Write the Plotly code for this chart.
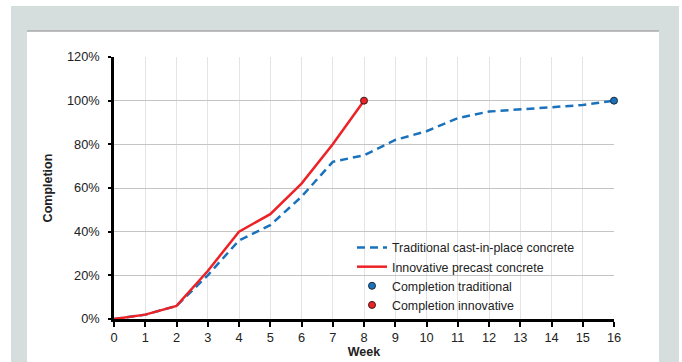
import plotly.graph_objects as go

weeks_trad = list(range(0, 17))
trad = [0, 2, 6, 20, 36, 43, 56, 72, 75, 82, 86, 92, 95, 96, 97, 98, 100]
weeks_innov = list(range(0, 9))
innov = [0, 2, 6, 22, 40, 48, 62, 80, 100]
completion_trad = ([16], [100])
completion_innov = ([8], [100])
x_ticks = list(range(0, 17))
y_ticks = [0, 20, 40, 60, 80, 100, 120]

W, H = 682, 362
L, R, T, B = 114, 614, 57, 319  # plot area pixel box

def px(X):
    return (X - L) / (R - L)

def py(Y):
    return (B - Y) / (B - T)

BLUE = "#1a72bd"
RED = "#ec2227"
FONT = "Liberation Sans, Arial, sans-serif"
FS = 12.8

fig = go.Figure()
fig.add_trace(go.Scatter(x=weeks_trad, y=[v / 100 for v in trad], mode="lines",
                         name="Traditional cast-in-place concrete",
                         line=dict(color=BLUE, width=2.5, dash="8px,5px")))
fig.add_trace(go.Scatter(x=weeks_innov, y=[v / 100 for v in innov], mode="lines",
                         name="Innovative precast concrete",
                         line=dict(color=RED, width=2.5)))
fig.add_trace(go.Scatter(x=completion_trad[0], y=[v / 100 for v in completion_trad[1]],
                         mode="markers", name="Completion traditional",
                         marker=dict(color=BLUE, size=7, line=dict(color="#1d2b3a", width=1))))
fig.add_trace(go.Scatter(x=completion_innov[0], y=[v / 100 for v in completion_innov[1]],
                         mode="markers", name="Completion innovative",
                         marker=dict(color=RED, size=7, line=dict(color="#3a1d1d", width=1))))
for tr in fig.data:
    tr.cliponaxis = False

shapes = [
    dict(type="rect", xref="paper", yref="paper", x0=px(11), x1=px(679), y0=py(6), y1=py(370),
         fillcolor="#d5dedd", line=dict(width=0), layer="below"),
    dict(type="rect", xref="paper", yref="paper", x0=px(27), x1=px(659), y0=py(31), y1=py(370),
         fillcolor="white", line=dict(width=0), layer="below"),
    dict(type="line", xref="paper", yref="paper", x0=px(27), x1=px(659), y0=py(31), y1=py(31),
         line=dict(color="#a8a8a8", width=1.5), layer="below"),
]

fig.update_layout(
    width=W, height=H,
    margin=dict(l=L, r=W - R, t=T, b=H - B, pad=0, autoexpand=False),
    paper_bgcolor="white", plot_bgcolor="white",
    shapes=shapes,
    font=dict(family=FONT, size=FS, color="#333333"),
    showlegend=True,
    legend=dict(x=px(352), y=py(233), xanchor="left", yanchor="top",
                bgcolor="rgba(0,0,0,0)", font=dict(size=12.4, color="#222222"),
                tracegroupgap=0, itemwidth=30),
    xaxis=dict(range=[0, 16], tickvals=x_ticks, ticktext=[str(v) for v in x_ticks],
               automargin=False,
               showgrid=True, gridcolor="#e4e4e4", gridwidth=1,
               showline=True, linecolor="black", linewidth=2.5,
               ticks="outside", ticklen=5, tickwidth=2, tickcolor="black",
               zeroline=False, tickfont=dict(size=FS, color="#222222"),
               title=dict(text="<b>Week</b>", font=dict(size=12.5, color="#222222"), standoff=4)),
    yaxis=dict(range=[0, 1.2], tickvals=[v / 100 for v in y_ticks],
               ticktext=[f"{v}%" for v in y_ticks],
               automargin=False, ticklabelstandoff=6,
               showgrid=True, gridcolor="#c4c4c4", gridwidth=1,
               showline=True, linecolor="black", linewidth=2.5,
               ticks="outside", ticklen=3, tickwidth=1.5, tickcolor="black",
               zeroline=False, tickfont=dict(size=FS, color="#222222"),
               title=dict(text="<b>Completion</b>", font=dict(size=12.5, color="#222222"), standoff=12)),
)

fig.write_html("out.html")
